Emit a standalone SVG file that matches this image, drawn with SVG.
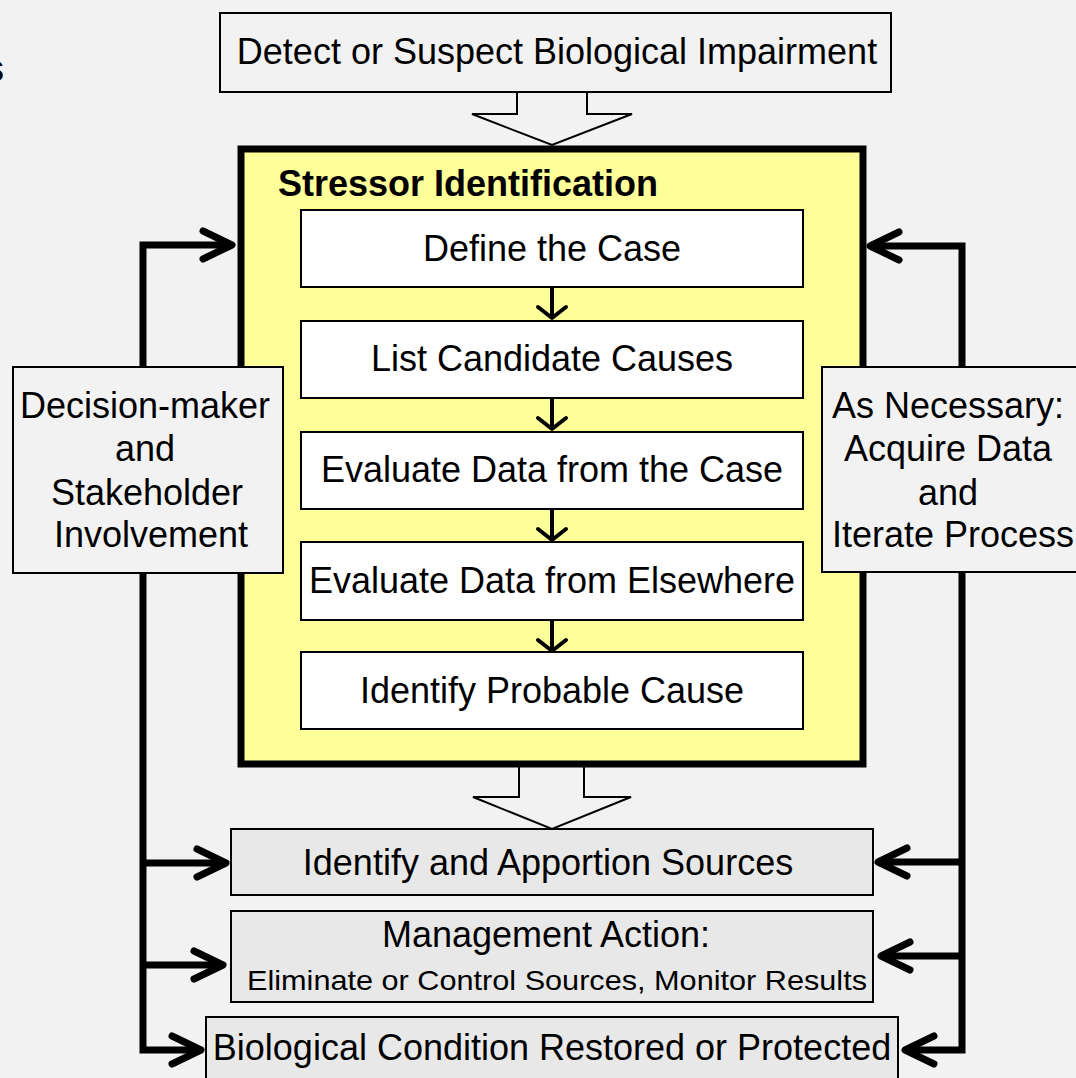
<svg xmlns="http://www.w3.org/2000/svg" width="1076" height="1078" viewBox="0 0 1076 1078">
<style>
text{font-family:"Liberation Sans",Arial,sans-serif;font-size:36px;fill:#000;text-anchor:middle}
.bold{font-weight:bold;text-anchor:start}
.box{fill:#f2f2f2;stroke:#000;stroke-width:2}
.step{fill:#fff;stroke:#000;stroke-width:2}
.grey{fill:#e8e8e8;stroke:#000;stroke-width:2}
.conn{fill:none;stroke:#000;stroke-width:7;stroke-linejoin:miter}
.thin{fill:none;stroke:#000;stroke-width:4}
.hollow{fill:#f2f2f2;stroke:#000;stroke-width:2;stroke-linejoin:miter}
</style>
<defs>
<marker id="big" markerUnits="userSpaceOnUse" viewBox="-40 -20 46 40" markerWidth="46" markerHeight="40" refX="0" refY="0" orient="auto-start-reverse" overflow="visible">
<path d="M-29,-14 L0,0 L-29,14" fill="none" stroke="#000" stroke-width="7" stroke-linecap="round" stroke-linejoin="round"/>
</marker>
<marker id="small" markerUnits="userSpaceOnUse" viewBox="-20 -20 30 40" markerWidth="30" markerHeight="40" refX="0" refY="0" orient="auto" overflow="visible">
<path d="M-11,-14 L0,0 L-11,14" fill="none" stroke="#000" stroke-width="4" stroke-linecap="round" stroke-linejoin="round"/>
</marker>
</defs>
<rect x="0" y="0" width="1076" height="1078" fill="#f2f2f2"/>
<text x="-14" y="81" style="text-anchor:start">s</text>

<g id="connectors">
<path class="conn" d="M232 245 H143 V1050 H201" marker-start="url(#big)" marker-end="url(#big)"/>
<path class="conn" d="M143 863 H226" marker-end="url(#big)"/>
<path class="conn" d="M143 965 H223" marker-end="url(#big)"/>
<path class="conn" d="M870 246 H962 V1050 H905" marker-start="url(#big)" marker-end="url(#big)"/>
<path class="conn" d="M962 862 H878" marker-end="url(#big)"/>
<path class="conn" d="M962 956 H881" marker-end="url(#big)"/>
<path class="hollow" d="M517 92 V114 H472 L552 145 L632 114 H587 V92"/>
<path class="hollow" d="M519 767 V797 H473 L552 829 L631 797 H584 V767"/>
</g>

<g id="detect">
<rect class="box" x="220" y="13" width="671" height="79"/>
<text x="557" y="64">Detect or Suspect Biological Impairment</text>
</g>

<g id="stressor-identification">
<rect x="241" y="149" width="622" height="615" fill="#ffff99" stroke="#000" stroke-width="7"/>
<text class="bold" x="278" y="196">Stressor Identification</text>
</g>

<g id="step-connectors">
<path class="thin" d="M552 287 V318" marker-end="url(#small)"/>
<path class="thin" d="M552 398 V429" marker-end="url(#small)"/>
<path class="thin" d="M552 509 V540" marker-end="url(#small)"/>
<path class="thin" d="M552 620 V651" marker-end="url(#small)"/>
</g>

<g id="define-case">
<rect class="step" x="301" y="210" width="502" height="77"/>
<text x="552" y="261">Define the Case</text>
</g>
<g id="list-causes">
<rect class="step" x="301" y="321" width="502" height="77"/>
<text x="552" y="371">List Candidate Causes</text>
</g>
<g id="evaluate-case">
<rect class="step" x="301" y="432" width="502" height="77"/>
<text x="552" y="482">Evaluate Data from the Case</text>
</g>
<g id="evaluate-elsewhere">
<rect class="step" x="301" y="542" width="502" height="78"/>
<text x="552" y="593">Evaluate Data from Elsewhere</text>
</g>
<g id="identify-cause">
<rect class="step" x="301" y="652" width="502" height="77"/>
<text x="552" y="703">Identify Probable Cause</text>
</g>

<g id="decision-maker">
<rect class="box" x="13" y="367" width="270" height="206"/>
<text x="145" y="418">Decision-maker</text>
<text x="145" y="461">and</text>
<text x="147" y="505">Stakeholder</text>
<text x="151" y="547">Involvement</text>
</g>

<g id="as-necessary">
<rect class="box" x="822" y="367" width="270" height="205"/>
<text x="948" y="418">As Necessary:</text>
<text x="948" y="461">Acquire Data</text>
<text x="948" y="505">and</text>
<text x="953" y="547">Iterate Process</text>
</g>

<g id="apportion-sources">
<rect class="grey" x="231" y="829" width="642" height="66"/>
<text x="548" y="875">Identify and Apportion Sources</text>
</g>

<g id="management-action">
<rect class="grey" x="231" y="911" width="642" height="91"/>
<text x="546" y="947">Management Action:</text>
<text x="557" y="990" textLength="620" lengthAdjust="spacingAndGlyphs" style="font-size:28px">Eliminate or Control Sources, Monitor Results</text>
</g>

<g id="condition-restored">
<rect class="grey" x="206" y="1017" width="692" height="80"/>
<text x="552" y="1060">Biological Condition Restored or Protected</text>
</g>
</svg>
